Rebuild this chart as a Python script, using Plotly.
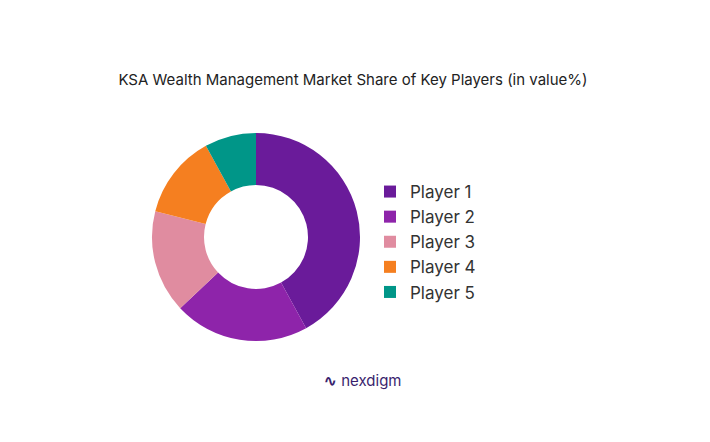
import plotly.graph_objects as go

players = ["Player 1", "Player 2", "Player 3", "Player 4", "Player 5"]
shares = [42, 21, 16, 13, 8]
colors = ["#6A1B9A", "#8E24AA", "#E08CA0", "#F57F20", "#009688"]

W, H = 710, 442

fig = go.Figure(
    go.Pie(
        labels=players,
        values=shares,
        hole=0.5,
        sort=False,
        direction="clockwise",
        rotation=0,
        marker=dict(colors=colors, line=dict(width=0)),
        textinfo="none",
        domain=dict(x=[144 / W, 352 / W], y=[1 - 333 / H, 1 - 125 / H]),
    )
)

fig.update_layout(
    width=W,
    height=H,
    margin=dict(l=0, r=0, t=0, b=0),
    paper_bgcolor="white",
    font=dict(family="Inter, Roboto, sans-serif", color="#222"),
    title=dict(
        text="KSA Wealth Management Market Share of Key Players (in value%)",
        x=345 / W, xanchor="center", y=1 - 72 / H, yanchor="middle",
        font=dict(size=15, color="#222"),
    ),
    legend=dict(
        x=362 / W, y=1 - 166 / H, xanchor="left", yanchor="top",
        font=dict(size=17, color="#333"),
        itemwidth=30,
    ),
    annotations=[
        dict(
            text="<b>∿</b> nexdigm", x=355 / W, y=1 - 384 / H, xref="paper", yref="paper",
            showarrow=False, font=dict(size=15, color="#3a1f6e"),
        )
    ],
)

fig.write_html("out.html")
